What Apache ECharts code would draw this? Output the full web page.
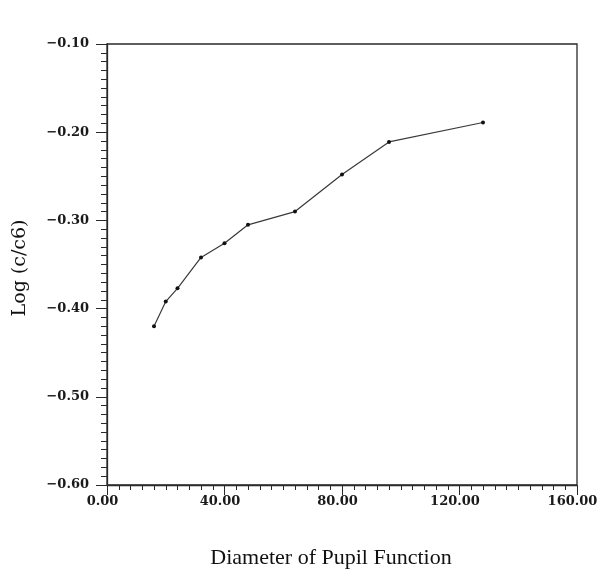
<!DOCTYPE html>
<html>
<head>
<meta charset="utf-8">
<script src="https://cdn.jsdelivr.net/npm/echarts@6/dist/echarts.min.js"></script>
<style>
    html, body { margin: 0; padding: 0; background: #fff; }
    #chart { width: 600px; height: 576px; }
</style>
</head>
<body>
<div id="chart"></div>
<script>
    // data
    const diameters = [16, 20, 24, 32, 40, 48, 64, 80, 96, 128];
    const logRatio = [-0.420, -0.392, -0.377, -0.342, -0.326, -0.305, -0.290, -0.248, -0.211, -0.189];
    const xTitle = 'Diameter of Pupil Function';
    const yTitle = 'Log (c/c6)';

    const serif = '"Liberation Serif", "DejaVu Serif", serif';
    const wideSerif = '"DejaVu Serif", serif';
    const ink = '#2a2a2a';

    const fmt = v => v.toFixed(2).replace('-', '\u2212');

    const chart = echarts.init(document.getElementById('chart'));
    chart.setOption({
        animation: false,
        backgroundColor: '#fff',
        grid: {
            left: 107, top: 44, right: 23, bottom: 91,
            outerBoundsMode: 'none',
            containLabel: false,
            show: true, borderColor: ink, borderWidth: 1.3
        },
        xAxis: {
            type: 'value',
            min: 0, max: 160, interval: 40,
            axisLine: {onZero: false, lineStyle: {color: ink, width: 1.3}},
            axisTick: {length: 10, lineStyle: {color: ink, width: 1}},
            minorTick: {show: true, splitNumber: 10, length: 5, lineStyle: {color: ink, width: 1}},
            splitLine: {show: false},
            axisLabel: {
                margin: 10, color: '#1a1a1a', fontFamily: wideSerif, fontSize: 13, fontWeight: 'bold',
                padding: [0, 9, 0, 0],
                formatter: fmt
            }
        },
        yAxis: {
            type: 'value',
            min: -0.6, max: -0.1, interval: 0.1,
            axisLine: {onZero: false, lineStyle: {color: ink, width: 1.3}},
            axisTick: {length: 11, lineStyle: {color: ink, width: 1}},
            minorTick: {show: true, splitNumber: 10, length: 6, lineStyle: {color: ink, width: 1}},
            splitLine: {show: false},
            axisLabel: {
                margin: 18, color: '#1a1a1a', fontFamily: wideSerif, fontSize: 13, fontWeight: 'bold',
                formatter: fmt
            }
        },
        graphic: [
            {
                type: 'text', x: 331, y: 558,
                style: {text: xTitle, font: '22px ' + serif, fill: '#111', textAlign: 'center', textVerticalAlign: 'middle'}
            },
            {
                type: 'text', x: 20, y: 268, rotation: Math.PI / 2,
                style: {text: yTitle, font: '19px ' + wideSerif, fill: '#111', textAlign: 'center', textVerticalAlign: 'middle'}
            }
        ],
        series: [{
            type: 'line',
            data: diameters.map((d, i) => [d, logRatio[i]]),
            symbol: 'circle',
            symbolSize: 4,
            itemStyle: {color: '#111'},
            lineStyle: {color: '#3a3a3a', width: 1.2}
        }]
    });
</script>
</body>
</html>
